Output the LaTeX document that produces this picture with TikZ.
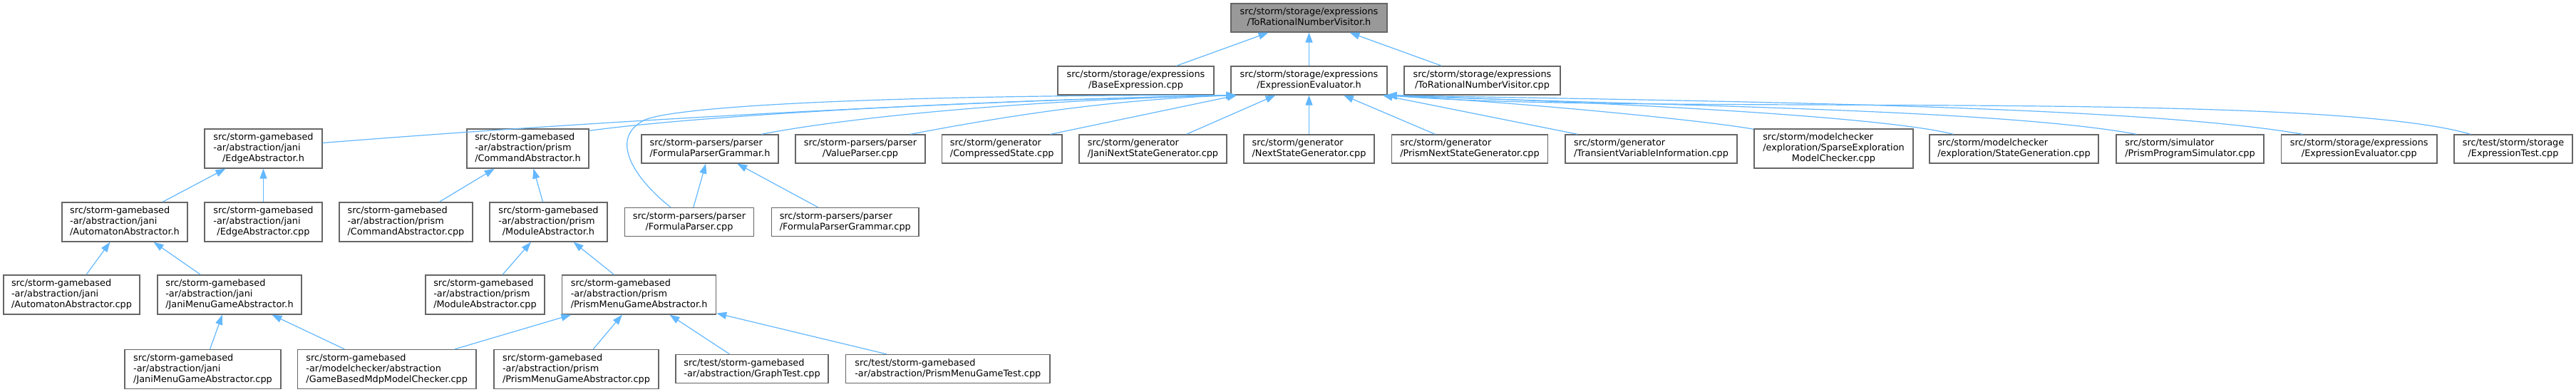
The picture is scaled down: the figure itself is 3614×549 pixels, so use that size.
\documentclass[tikz,border=0pt]{standalone}
\usepackage{fontspec}
\setmainfont{DejaVu Sans}
\usetikzlibrary{arrows.meta,calc}
\definecolor{boxline}{HTML}{666666}
\definecolor{rootfill}{HTML}{999999}
\definecolor{edgecol}{HTML}{63B8FF}
\newcommand{\dvs}{\fontsize{12.85}{15}\selectfont}
\newcommand{\twol}[2]{\begin{tabular}{@{}l@{}}#1\\\multicolumn{1}{@{}c@{}}{#2}\end{tabular}}
\newcommand{\threel}[3]{\begin{tabular}{@{}l@{}}#1\\#2\\\multicolumn{1}{@{}c@{}}{#3}\end{tabular}}
\tikzset{
  box/.style={draw=boxline, line width=1.3pt, fill=white, inner sep=0pt, minimum height=40pt, font=\dvs, text=black},
  tall/.style={minimum height=55pt},
  root/.style={fill=rootfill},
  edge/.style={draw=edgecol, line width=1.2pt, -{Triangle[length=14pt,width=10pt]}}
}
\begin{document}
\begin{tikzpicture}[x=1pt,y=-1pt]
\fill[white] (0,0) rectangle (3614,549);
\useasboundingbox (0,0) rectangle (3614,549);
% row 0
\node[box,root,minimum width=219pt] (T) at (1836.5,25) {\twol{src/storm/storage/expressions}{/ToRationalNumberVisitor.h}};
% row 1
\node[box,minimum width=219pt] (base) at (1593.5,113) {\twol{src/storm/storage/expressions}{/BaseExpression.cpp}};
\node[box,minimum width=219pt] (E) at (1836.5,113) {\twol{src/storm/storage/expressions}{/ExpressionEvaluator.h}};
\node[box,minimum width=219pt] (trvc) at (2079.5,113) {\twol{src/storm/storage/expressions}{/ToRationalNumberVisitor.cpp}};
% row 2
\node[box,tall,minimum width=165pt] (edgeh) at (369.5,208.5) {\threel{src/storm-gamebased}{-ar/abstraction/jani}{/EdgeAbstractor.h}};
\node[box,tall,minimum width=171pt] (cmdh) at (740.5,208.5) {\threel{src/storm-gamebased}{-ar/abstraction/prism}{/CommandAbstractor.h}};
\node[box,minimum width=192pt] (fpgh) at (996,209) {\twol{src/storm-parsers/parser}{/FormulaParserGrammar.h}};
\node[box,minimum width=182pt] (vp) at (1207,209) {\twol{src/storm-parsers/parser}{/ValueParser.cpp}};
\node[box,minimum width=168.5pt] (cs) at (1405.75,209) {\twol{src/storm/generator}{/CompressedState.cpp}};
\node[box,minimum width=207pt] (jnsg) at (1617.5,209) {\twol{src/storm/generator}{/JaniNextStateGenerator.cpp}};
\node[box,minimum width=183pt] (nsg) at (1836.5,209) {\twol{src/storm/generator}{/NextStateGenerator.cpp}};
\node[box,minimum width=218.5pt] (pnsg) at (2062,209) {\twol{src/storm/generator}{/PrismNextStateGenerator.cpp}};
\node[box,minimum width=241pt] (tvi) at (2316.5,209) {\twol{src/storm/generator}{/TransientVariableInformation.cpp}};
\node[box,tall,minimum width=223pt] (sparse) at (2572.5,208.5) {\threel{src/storm/modelchecker}{/exploration/SparseExploration}{ModelChecker.cpp}};
\node[box,minimum width=237pt] (sg) at (2825.5,209) {\twol{src/storm/modelchecker}{/exploration/StateGeneration.cpp}};
\node[box,minimum width=207pt] (pps) at (3072.5,209) {\twol{src/storm/simulator}{/PrismProgramSimulator.cpp}};
\node[box,minimum width=218.5pt] (eec) at (3309.75,209) {\twol{src/storm/storage/expressions}{/ExpressionEvaluator.cpp}};
\node[box,minimum width=166pt] (et) at (3526,209) {\twol{src/test/storm/storage}{/ExpressionTest.cpp}};
% row 3
\node[box,tall,minimum width=176pt] (auth) at (175,311.5) {\threel{src/storm-gamebased}{-ar/abstraction/jani}{/AutomatonAbstractor.h}};
\node[box,tall,minimum width=165pt] (edgec) at (369.5,311.5) {\threel{src/storm-gamebased}{-ar/abstraction/jani}{/EdgeAbstractor.cpp}};
\node[box,tall,minimum width=187pt] (cmdc) at (569.5,311.5) {\threel{src/storm-gamebased}{-ar/abstraction/prism}{/CommandAbstractor.cpp}};
\node[box,tall,minimum width=165pt] (modh) at (769.5,311.5) {\threel{src/storm-gamebased}{-ar/abstraction/prism}{/ModuleAbstractor.h}};
\node[box,minimum width=181pt] (fpc) at (967,311.5) {\twol{src/storm-parsers/parser}{/FormulaParser.cpp}};
\node[box,minimum width=206.4pt] (fpgc) at (1185.8,311.5) {\twol{src/storm-parsers/parser}{/FormulaParserGrammar.cpp}};
% row 4
\node[box,tall,minimum width=191pt] (autc) at (100.5,413.5) {\threel{src/storm-gamebased}{-ar/abstraction/jani}{/AutomatonAbstractor.cpp}};
\node[box,tall,minimum width=202pt] (jmh) at (322,413.5) {\threel{src/storm-gamebased}{-ar/abstraction/jani}{/JaniMenuGameAbstractor.h}};
\node[box,tall,minimum width=167pt] (modc) at (680.5,413.5) {\threel{src/storm-gamebased}{-ar/abstraction/prism}{/ModuleAbstractor.cpp}};
\node[box,tall,minimum width=216pt] (pmh) at (896.6,413.5) {\threel{src/storm-gamebased}{-ar/abstraction/prism}{/PrismMenuGameAbstractor.h}};
% row 5
\node[box,tall,minimum width=219pt] (jmc) at (284.5,518) {\threel{src/storm-gamebased}{-ar/abstraction/jani}{/JaniMenuGameAbstractor.cpp}};
\node[box,tall,minimum width=250.5pt] (gb) at (542.75,518) {\threel{src/storm-gamebased}{-ar/modelchecker/abstraction}{/GameBasedMdpModelChecker.cpp}};
\node[box,tall,minimum width=231pt] (pmc) at (808.5,518) {\threel{src/storm-gamebased}{-ar/abstraction/prism}{/PrismMenuGameAbstractor.cpp}};
\node[box,minimum width=214pt] (gt) at (1055,517.5) {\twol{src/test/storm-gamebased}{-ar/abstraction/GraphTest.cpp}};
\node[box,minimum width=286.4pt] (pmgt) at (1329.8,517.5) {\twol{src/test/storm-gamebased}{-ar/abstraction/PrismMenuGameTest.cpp}};
% edges to root
\draw[edge] (base) -- (T);
\draw[edge] (E) -- (T);
\draw[edge] (trvc) -- (T);
% straight edges to E
\draw[edge] (jnsg) -- (E);
\draw[edge] (nsg) -- (E);
\draw[edge] (pnsg) -- (E);
\draw[edge] (tvi) -- (E);
\draw[edge] ($(cs.north)+(68,0)$) -- ($(E.south west)+(9,0)$);
% curved edges to E, left
\draw[edge] ($(edgeh.east)+(0,-8)$) .. controls (900,165) and (1400,140) .. ($(E.south west)+(8,0)$);
\draw[edge] ($(cmdh.north east)+(0,3)$) .. controls (1000,160) and (1400,140) .. ($(E.south west)+(8,0)$);
\draw[edge] ($(fpgh.north)+(72,0)$) .. controls (1200,163) and (1450,140) .. ($(E.south west)+(8,0)$);
\draw[edge] ($(vp.north)+(70,0)$) .. controls (1400,165) and (1550,140) .. ($(E.south west)+(8,0)$);
\draw[edge] ($(fpc.north)+(-26,0)$) .. controls (895,255) and (850,195) .. (905,168) .. controls (960,146) and (1300,133) .. ($(E.south west)+(8,0)$);
% curved edges to E, right
\draw[edge] ($(sparse.north west)+(0,1)$) .. controls (2400,170) and (2150,145) .. ($(E.south east)+(-1,0)$);
\draw[edge] ($(sg.north)+(-85,0)$) .. controls (2650,165) and (2300,145) .. ($(E.south east)+(-1,0)$);
\draw[edge] ($(pps.north)+(-75,0)$) .. controls (2800,152) and (2300,148) .. ($(E.south east)+(-1,0)$);
\draw[edge] ($(eec.north)+(-79,0)$) .. controls (3000,148) and (2400,142) .. ($(E.south east)+(-1,0)$);
\draw[edge] ($(et.north)+(-60,0)$) .. controls (3250,125) and (2300,162) .. ($(E.south east)+(-1,0)$);
% jani subtree
\draw[edge] (auth) -- (edgeh);
\draw[edge] (edgec) -- (edgeh);
\draw[edge] (autc) -- (auth);
\draw[edge] (jmh) -- (auth);
\draw[edge] (jmc) -- (jmh);
\draw[edge] (gb) -- (jmh);
% prism subtree
\draw[edge] (cmdc) -- (cmdh);
\draw[edge] (modh) -- (cmdh);
\draw[edge] (modc) -- (modh);
\draw[edge] (pmh) -- (modh);
\draw[edge] (gb) -- (pmh);
\draw[edge] (pmc) -- (pmh);
\draw[edge] (gt) -- (pmh);
\draw[edge] (pmgt) -- (pmh);
% parser subtree
\draw[edge] (fpc) -- (fpgh);
\draw[edge] (fpgc) -- (fpgh);
\end{tikzpicture}
\end{document}
